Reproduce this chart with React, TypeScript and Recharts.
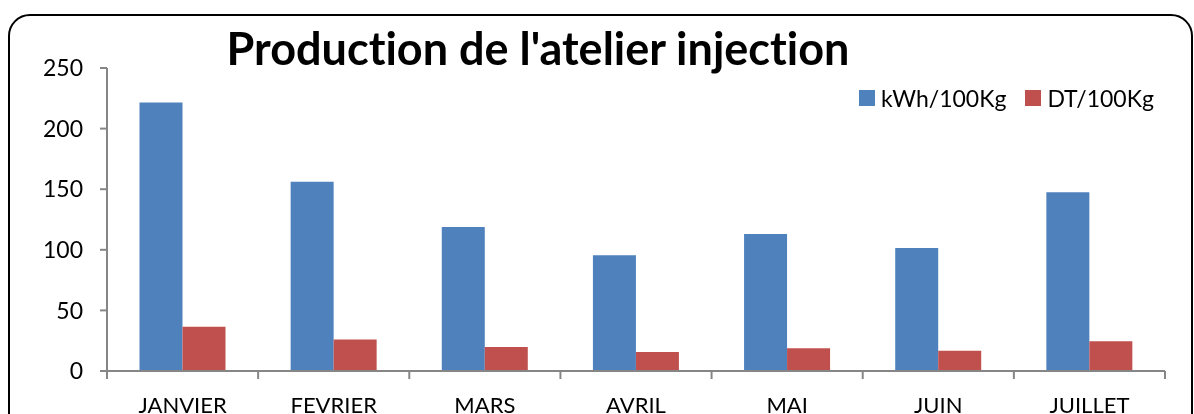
import React from "react";
import { BarChart, Bar, XAxis, YAxis } from "recharts";

const months = ["JANVIER", "FEVRIER", "MARS", "AVRIL", "MAI", "JUIN", "JUILLET"];
const kwh = [221.5, 156.2, 118.8, 95.6, 113, 101.4, 147.4];
const dt = [36.6, 25.9, 19.8, 15.7, 18.7, 16.8, 24.5];
const yTicks = [0, 50, 100, 150, 200, 250];

const BLUE = "#4F81BD";
const RED = "#C0504D";
const AXIS = "#868686";
const LABEL_GAP = 26;

const data = months.map((m, i) => ({ month: m, kwh: kwh[i], dt: dt[i] }));

const legendItems = [
    { label: "kWh/100Kg", color: BLUE },
    { label: "DT/100Kg", color: RED },
];

function LegendBox() {
    return (
        <div
            style={{
                position: "absolute",
                left: 851,
                top: 77,
                display: "flex",
                alignItems: "center",
                fontSize: 23,
                lineHeight: "26px",
                color: "#000",
            }}
        >
            {legendItems.map((it) => (
                <div key={it.label} style={{ display: "flex", alignItems: "center", marginRight: 19 }}>
                    <span style={{ width: 16, height: 16, background: it.color, display: "inline-block", marginRight: 6 }} />
                    <span>{it.label}</span>
                </div>
            ))}
        </div>
    );
}

// category label plus Excel-style tick marks on the category boundaries
function MonthTick(props: any) {
    const { x, y, payload, index, width, visibleTicksCount } = props;
    const step = width / visibleTicksCount;
    const top = y - LABEL_GAP;
    return (
        <g>
            <line x1={x - step / 2} x2={x - step / 2} y1={top} y2={top + 8} stroke={AXIS} strokeWidth={2} />
            {index === visibleTicksCount - 1 && (
                <line x1={x + step / 2} x2={x + step / 2} y1={top} y2={top + 8} stroke={AXIS} strokeWidth={2} />
            )}
            <text x={x} y={y} dy="0.71em" textAnchor="middle" fill="#000" fontSize={22}>
                {payload.value}
            </text>
        </g>
    );
}

export default function App() {
    return (
        <div
            style={{
                position: "fixed",
                left: 8,
                top: 8,
                width: 1186,
                height: 406,
                overflow: "hidden",
                fontFamily: "Lato",
                fontVariantLigatures: "none",
            }}
        >
            <div
                style={{
                    position: "absolute",
                    left: 0,
                    top: 6,
                    width: 1185,
                    height: 500,
                    boxSizing: "border-box",
                    border: "2px solid #000",
                    borderRadius: 22,
                }}
            />
            <div
                style={{
                    position: "absolute",
                    left: 0,
                    width: 1060,
                    top: 13,
                    textAlign: "center",
                    fontWeight: 700,
                    fontSize: 45,
                    lineHeight: "54px",
                    color: "#000",
                }}
            >
                Production de l'atelier injection
            </div>
            <LegendBox />
            <BarChart
                width={1186}
                height={406}
                data={data}
                margin={{ top: 60, right: 29, bottom: 0, left: 0 }}
                barCategoryGap="21.5%"
                barGap={0}
            >
                <XAxis
                    dataKey="month"
                    height={43}
                    tickLine={false}
                    tickSize={0}
                    tickMargin={LABEL_GAP}
                    axisLine={{ stroke: AXIS, strokeWidth: 2 }}
                    tick={<MonthTick />}
                    interval={0}
                />
                <YAxis
                    width={99}
                    domain={[0, 250]}
                    ticks={yTicks}
                    tickSize={7}
                    tickMargin={17}
                    axisLine={{ stroke: AXIS, strokeWidth: 2 }}
                    tickLine={{ stroke: AXIS, strokeWidth: 2 }}
                    tick={{ fill: "#000", fontSize: 23 }}
                />
                <Bar dataKey="kwh" name="kWh/100Kg" fill={BLUE} isAnimationActive={false} />
                <Bar dataKey="dt" name="DT/100Kg" fill={RED} isAnimationActive={false} />
            </BarChart>
        </div>
    );
}
